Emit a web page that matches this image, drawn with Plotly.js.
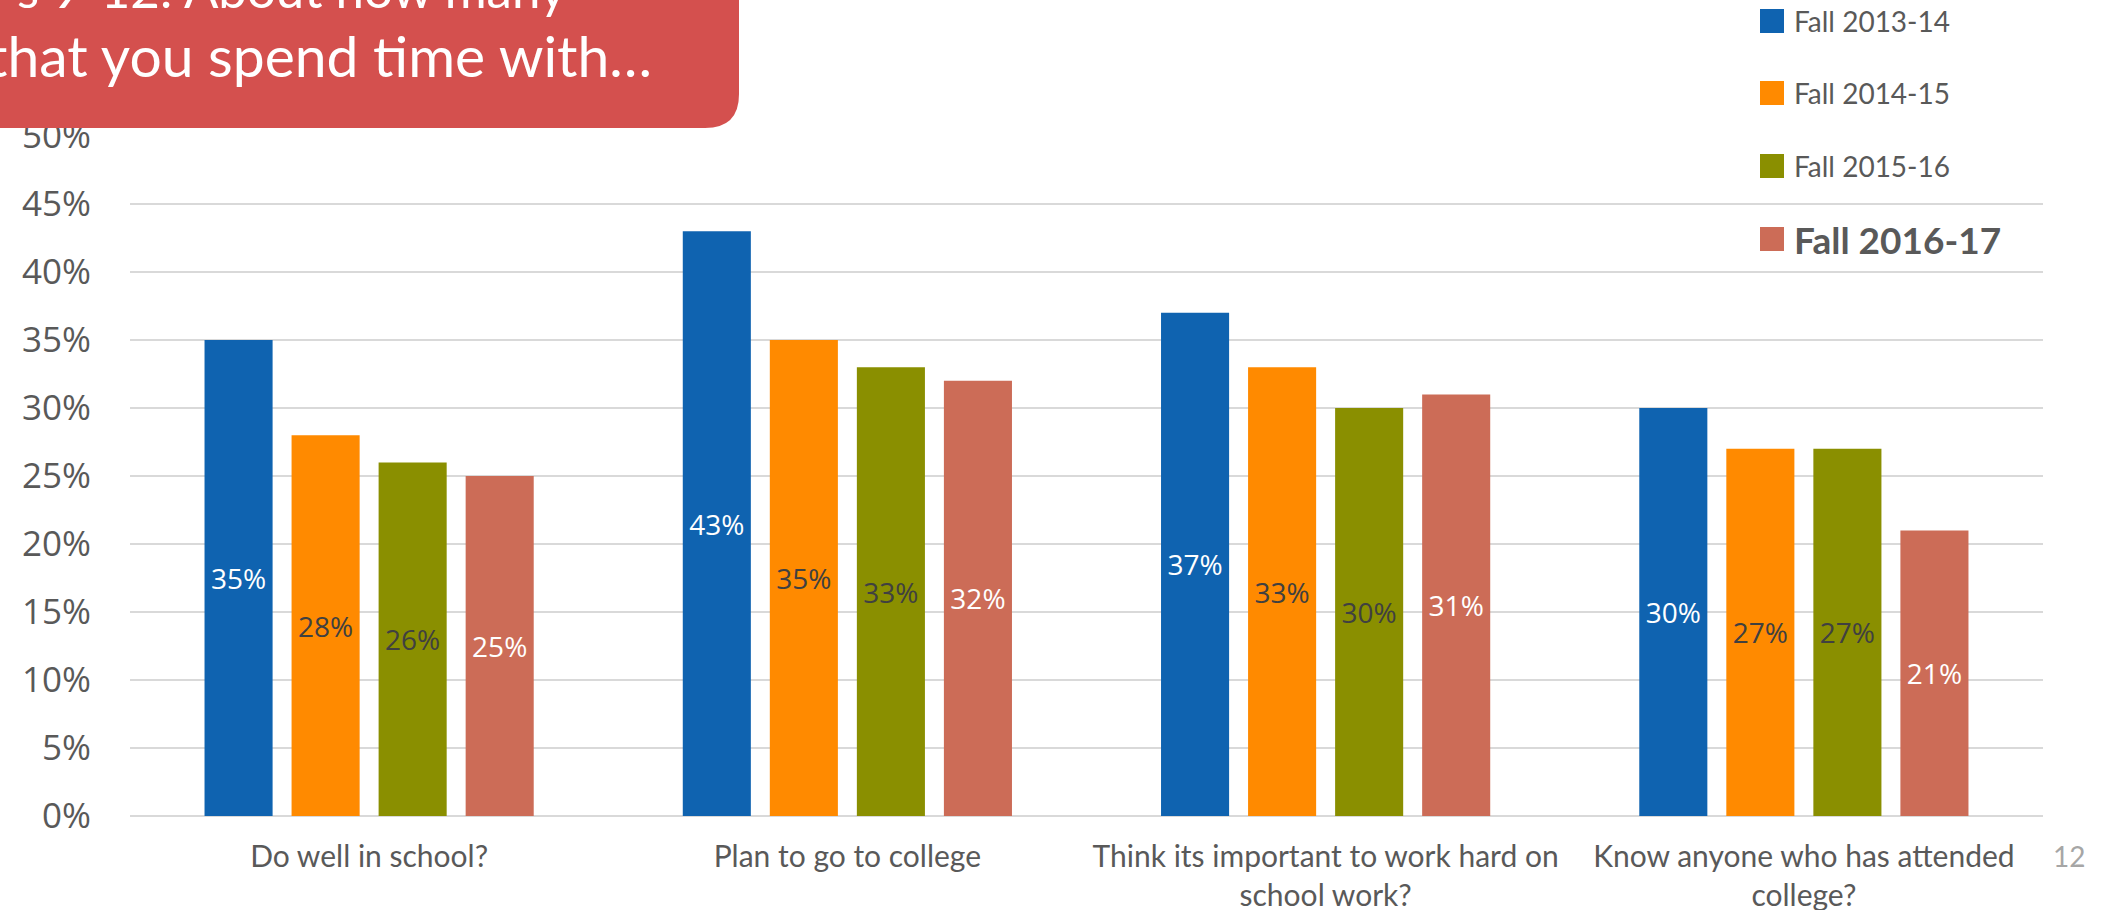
<!DOCTYPE html>
<html>
<head>
<meta charset="utf-8">
<script src="https://cdn.plot.ly/plotly-3.0.1.min.js"></script>
<style>html,body{margin:0;padding:0;background:#fff;}</style>
</head>
<body>
<div id="chart" style="width:2111px;height:910px;"></div>
<script>
// ---- data ----
const categories = [
  "Do well in school?",
  "Plan to go to college",
  "Think its important to work hard on<br>school work?",
  "Know anyone who has attended<br>college?"
];
const seriesNames = ["Fall 2013-14", "Fall 2014-15", "Fall 2015-16", "Fall 2016-17"];
const fall2013 = [0.35, 0.43, 0.37, 0.30];
const fall2014 = [0.28, 0.35, 0.33, 0.27];
const fall2015 = [0.26, 0.33, 0.30, 0.27];
const fall2016 = [0.25, 0.32, 0.31, 0.21];
const titleLines = ["s 9-12: About how many", "that you spend time with…"];
const pageNumber = "12";

// ---- styles ----
const colors = ["#0F63B0", "#FF8A00", "#8A8F00", "#CC6C57"];
const labelColors = ["#ffffff", "#404040", "#404040", "#ffffff"];
const calibriLike = "Lato, 'Open Sans', sans-serif";
const segoeLike = "'Open Sans', 'Noto Sans', sans-serif";

const W = 2111, H = 910;
const M = {l: 130, r: 68, t: 136, b: 94};
const pw = W - M.l - M.r, ph = H - M.t - M.b;
const xp = px => (px - M.l) / pw;
const yp = py => (H - M.b - py) / ph;

const values = [fall2013, fall2014, fall2015, fall2016];
const traces = values.map((v, i) => ({
  type: "bar",
  name: seriesNames[i],
  x: categories,
  y: v,
  marker: {color: colors[i]},
  text: v.map(d => Math.round(d * 100) + "%"),
  textposition: "inside",
  insidetextanchor: "middle",
  textangle: 0,
  constraintext: "none",
  textfont: {family: segoeLike, size: 28, color: labelColors[i]},
  hoverinfo: "x+y+name",
  showlegend: false
}));

// title box
const bx0 = xp(-20), bx1 = xp(739), by0 = yp(-20), by1 = yp(128);
const rx = 34 / pw, ry = 34 / ph;
const shapes = [{
  type: "path", xref: "paper", yref: "paper", layer: "above",
  path: `M ${bx0},${by0} L ${bx1},${by0} L ${bx1},${by1 + ry} Q ${bx1},${by1} ${bx1 - rx},${by1} L ${bx0},${by1} Z`,
  fillcolor: "#D4504E", line: {width: 0}
}];
const annotations = [
  {xref: "paper", yref: "paper", x: xp(568), y: yp(-12), xanchor: "right", yanchor: "middle",
   text: titleLines[0], showarrow: false, font: {family: calibriLike, size: 51, color: "#ffffff"}},
  {xref: "paper", yref: "paper", x: xp(654), y: yp(55), xanchor: "right", yanchor: "middle",
   text: titleLines[1], showarrow: false, font: {family: calibriLike, size: 57, color: "#ffffff"}},
  {xref: "paper", yref: "paper", x: xp(2069), y: yp(856), xanchor: "center", yanchor: "middle",
   text: pageNumber, showarrow: false, font: {family: calibriLike, size: 28, color: "#A6A6A6"}}
];
// legend (manual)
const rowY = [21, 93, 166, 239];
seriesNames.forEach((n, i) => {
  shapes.push({type: "rect", xref: "paper", yref: "paper",
    x0: xp(1760), x1: xp(1784), y0: yp(rowY[i] - 12), y1: yp(rowY[i] + 12),
    fillcolor: colors[i], line: {width: 0}});
  const last = i === seriesNames.length - 1;
  annotations.push({xref: "paper", yref: "paper", x: xp(1792), y: yp(rowY[i]),
    xanchor: "left", yanchor: "middle", showarrow: false,
    text: last ? "<b>" + n + "</b>" : n,
    font: {family: calibriLike, size: last ? 37 : 28, color: "#595959"}});
});

const layout = {
  width: W, height: H, autosize: false,
  margin: {l: M.l, r: M.r, t: M.t, b: M.b, pad: 0},
  paper_bgcolor: "#ffffff", plot_bgcolor: "#ffffff",
  barmode: "group", bargap: 0.272, bargroupgap: 0.218,
  showlegend: false,
  xaxis: {type: "category", automargin: false, ticks: "", showline: false,
    showgrid: false, ticklabelstandoff: 20,
    tickfont: {family: calibriLike, size: 30, color: "#595959"}},
  yaxis: {range: [0, 0.5], dtick: 0.05, tick0: 0, tickformat: ".0%", automargin: false,
    showgrid: true, gridcolor: "#D9D9D9", gridwidth: 2,
    zeroline: true, zerolinecolor: "#D9D9D9", zerolinewidth: 2,
    ticks: "", ticklabelstandoff: 38,
    tickfont: {family: segoeLike, size: 35, color: "#595959"}},
  shapes: shapes,
  annotations: annotations
};

Plotly.newPlot("chart", traces, layout, {displayModeBar: false, staticPlot: true});
</script>
</body>
</html>
